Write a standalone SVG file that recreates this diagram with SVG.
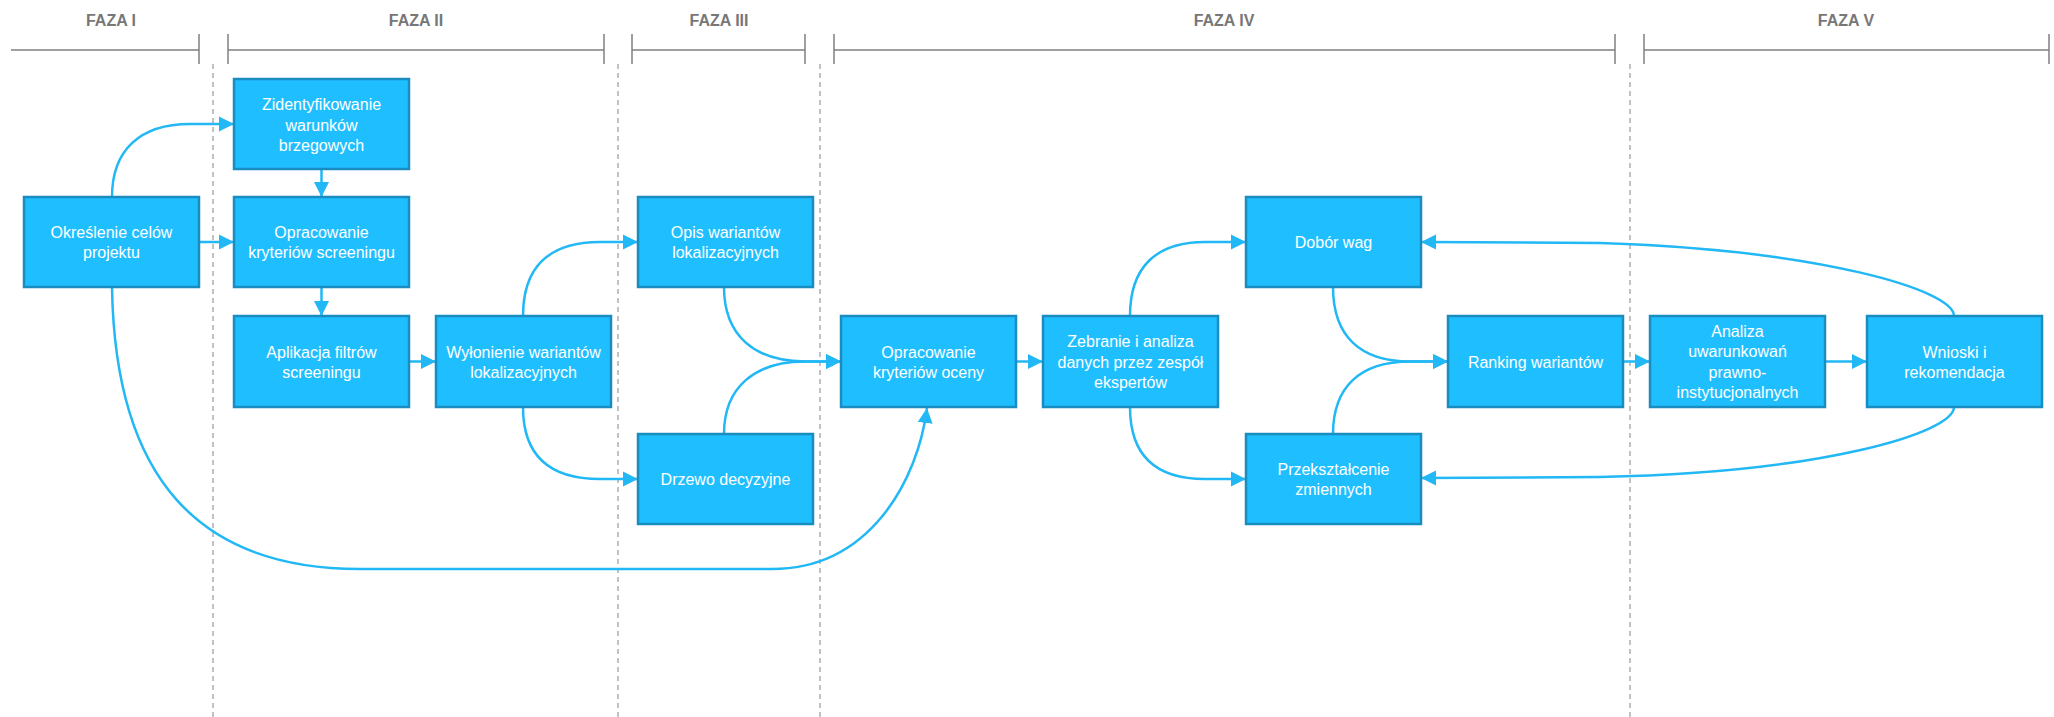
<svg xmlns="http://www.w3.org/2000/svg" width="2054" height="717" viewBox="0 0 2054 717">
<style>
.ph{fill:#777;font-family:"Liberation Sans",Arial,sans-serif;font-size:16px;font-weight:bold;text-anchor:middle}
.pl{stroke:#808080;stroke-width:1.5;fill:none}
.dl{stroke:#9a9a9a;stroke-width:1.2;stroke-dasharray:5 4;fill:none}
.box{fill:#1FBFFF;stroke:#1A8CC0;stroke-width:2.5}
.t{fill:#fff;font-family:"Liberation Sans",Arial,sans-serif;font-size:16px;text-anchor:middle}
.c{fill:none;stroke:#22B8F5;stroke-width:2.5;marker-end:url(#ah)}
</style>
<defs>
<marker id="ah" markerUnits="userSpaceOnUse" markerWidth="16" markerHeight="16" refX="15" refY="8" orient="auto" viewBox="0 0 16 16">
<path d="M0,0.5 L15,8 L0,15.5 z" fill="#22B8F5"/>
</marker>
</defs>
<rect width="2054" height="717" fill="#fff"/>
<g id="phases">
<text class="ph" x="111" y="26">FAZA I</text>
<text class="ph" x="416" y="26">FAZA II</text>
<text class="ph" x="719" y="26">FAZA III</text>
<text class="ph" x="1224" y="26">FAZA IV</text>
<text class="ph" x="1846" y="26">FAZA V</text>
<path class="pl" d="M11,50 H199 M199,34 V64"/>
<path class="pl" d="M228,50 H604 M228,34 V64 M604,34 V64"/>
<path class="pl" d="M632,50 H805 M632,34 V64 M805,34 V64"/>
<path class="pl" d="M834,50 H1615 M834,34 V64 M1615,34 V64"/>
<path class="pl" d="M1644,50 H2049 M1644,34 V64 M2049,34 V64"/>
</g>
<g id="separators">
<path class="dl" d="M213,64 V717 M618,64 V717 M820,64 V717 M1630,64 V717"/>
</g>
<g id="connectors">
<path class="c" d="M112,197 C112,150 140,124 190,124 L234,124"/>
<path class="c" d="M199,242 L234,242"/>
<path class="c" d="M321.5,169 L321.5,197"/>
<path class="c" d="M321.5,287 L321.5,316"/>
<path class="c" d="M409,361.5 L436,361.5"/>
<path class="c" d="M523,316 C523,268 548,242 600,242 L638,242"/>
<path class="c" d="M523,407 C523,455 548,479 600,479 L638,479"/>
<path class="c" d="M724,287 C724,336 755,361.5 805,361.5 L841,361.5"/>
<path class="c" d="M724,434 C724,387 755,361.5 805,361.5 L841,361.5"/>
<path class="c" d="M112,287 C115,480 200,569 360,569 L772,569 C870,569 918,480 927,408"/>
<path class="c" d="M1016,361.5 L1043,361.5"/>
<path class="c" d="M1130,316 C1130,268 1155,242 1205,242 L1246,242"/>
<path class="c" d="M1130,407 C1130,455 1155,479 1205,479 L1246,479"/>
<path class="c" d="M1333,287 C1333,336 1360,361.5 1410,361.5 L1448,361.5"/>
<path class="c" d="M1333,434 C1333,387 1360,361.5 1410,361.5 L1448,361.5"/>
<path class="c" d="M1623,361.5 L1650,361.5"/>
<path class="c" d="M1825,361.5 L1867,361.5"/>
<path class="c" d="M1954,316 C1954,290 1820,250 1600,243 L1421,242"/>
<path class="c" d="M1954,407 C1954,433 1820,473 1600,477 L1421,478"/>
</g>
<g id="n1"><rect class="box" x="24" y="197" width="175" height="90"/><text class="t" x="111.5" y="238">Określenie celów</text><text class="t" x="111.5" y="258">projektu</text></g>
<g id="n2"><rect class="box" x="234" y="79" width="175" height="90"/><text class="t" x="321.5" y="110">Zidentyfikowanie</text><text class="t" x="321.5" y="130.5">warunków</text><text class="t" x="321.5" y="151">brzegowych</text></g>
<g id="n3"><rect class="box" x="234" y="197" width="175" height="90"/><text class="t" x="321.5" y="238">Opracowanie</text><text class="t" x="321.5" y="258">kryteriów screeningu</text></g>
<g id="n4"><rect class="box" x="234" y="316" width="175" height="91"/><text class="t" x="321.5" y="357.5">Aplikacja filtrów</text><text class="t" x="321.5" y="377.5">screeningu</text></g>
<g id="n5"><rect class="box" x="436" y="316" width="175" height="91"/><text class="t" x="523.5" y="357.5">Wyłonienie wariantów</text><text class="t" x="523.5" y="377.5">lokalizacyjnych</text></g>
<g id="n6"><rect class="box" x="638" y="197" width="175" height="90"/><text class="t" x="725.5" y="238">Opis wariantów</text><text class="t" x="725.5" y="258">lokalizacyjnych</text></g>
<g id="n7"><rect class="box" x="638" y="434" width="175" height="90"/><text class="t" x="725.5" y="485">Drzewo decyzyjne</text></g>
<g id="n8"><rect class="box" x="841" y="316" width="175" height="91"/><text class="t" x="928.5" y="357.5">Opracowanie</text><text class="t" x="928.5" y="377.5">kryteriów oceny</text></g>
<g id="n9"><rect class="box" x="1043" y="316" width="175" height="91"/><text class="t" x="1130.5" y="347">Zebranie i analiza</text><text class="t" x="1130.5" y="367.5">danych przez zespół</text><text class="t" x="1130.5" y="388">ekspertów</text></g>
<g id="n10"><rect class="box" x="1246" y="197" width="175" height="90"/><text class="t" x="1333.5" y="248">Dobór wag</text></g>
<g id="n11"><rect class="box" x="1246" y="434" width="175" height="90"/><text class="t" x="1333.5" y="475">Przekształcenie</text><text class="t" x="1333.5" y="495">zmiennych</text></g>
<g id="n12"><rect class="box" x="1448" y="316" width="175" height="91"/><text class="t" x="1535.5" y="367.5">Ranking wariantów</text></g>
<g id="n13"><rect class="box" x="1650" y="316" width="175" height="91"/><text class="t" x="1737.5" y="337">Analiza</text><text class="t" x="1737.5" y="357">uwarunkowań</text><text class="t" x="1737.5" y="377.5">prawno-</text><text class="t" x="1737.5" y="398">instytucjonalnych</text></g>
<g id="n14"><rect class="box" x="1867" y="316" width="175" height="91"/><text class="t" x="1954.5" y="357.5">Wnioski i</text><text class="t" x="1954.5" y="377.5">rekomendacja</text></g>
</svg>
